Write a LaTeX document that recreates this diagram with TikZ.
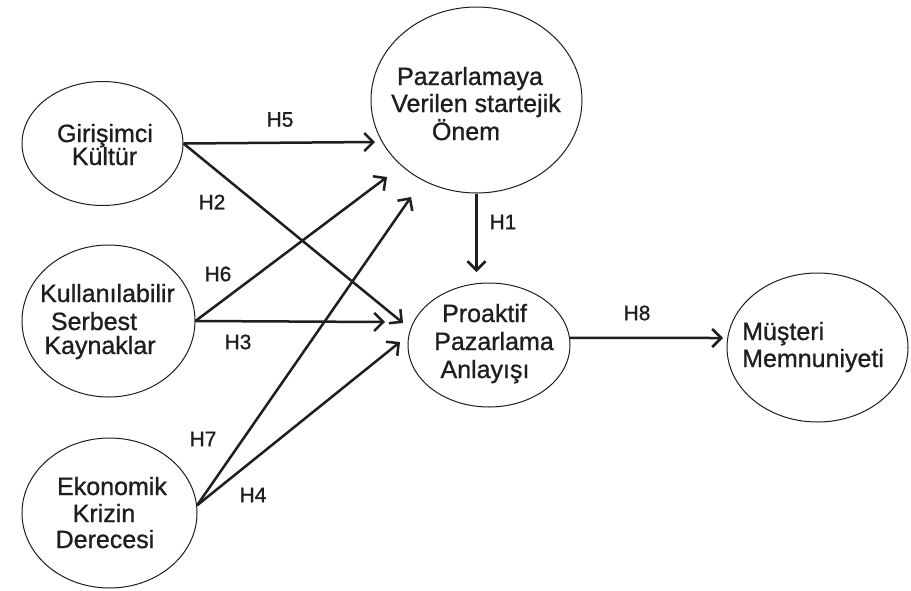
\documentclass[tikz,border=0pt]{standalone}
\usepackage{fontspec}
\setmainfont{Liberation Sans}
\newfontfamily\heavyfont{Liberation Sans}[FakeBold=0.9]
\usetikzlibrary{shapes.geometric,arrows.meta}
\definecolor{ink}{HTML}{1E1E1E}
\begin{document}
\begin{tikzpicture}[x=1pt,y=-1pt,
  ell/.style={draw=ink, line width=1pt, ellipse, inner sep=0pt},
  lbl/.style={font=\heavyfont\fontsize{25}{27}\selectfont, text=ink, inner sep=0pt, anchor=base},
  hyp/.style={font=\heavyfont\fontsize{21}{23}\selectfont, text=ink, inner sep=0pt},
  arr/.style={draw=ink, line width=2.5pt, -{Straight Barb[length=9pt,width=18pt]}}
]
\useasboundingbox[fill=white] (0,0) rectangle (911,590);

% ellipses
\node[ell, minimum width=161pt, minimum height=124pt] (gir) at (102.5,143.5) {};
\node[ell, minimum width=173pt, minimum height=152pt] (kul) at (108.5,321) {};
\node[ell, minimum width=175pt, minimum height=150pt] (eko) at (109.5,513) {};
\node[ell, minimum width=211pt, minimum height=186pt] (paz) at (476.5,100) {};
\node[ell, minimum width=162pt, minimum height=124pt] (pro) at (489,345) {};
\node[ell, minimum width=181pt, minimum height=149pt] (mus) at (817.5,347.5) {};

% texts
\node[lbl] (gir1) at (105,142) {Girişimci};
\node[lbl] (gir2) at (104.5,165) {Kültür};
\node[lbl] (kul1) at (107.5,302) {Kullanılabilir};
\node[lbl] (kul2) at (94,330) {Serbest};
\node[lbl] (kul3) at (100,354) {Kaynaklar};
\node[lbl] (eko1) at (112,495) {Ekonomik};
\node[lbl] (eko2) at (104,522) {Krizin};
\node[lbl] (eko3) at (105,548) {Derecesi};
\node[lbl] (paz1) at (470,85) {Pazarlamaya};
\node[lbl] (paz2) at (476,112) {Verilen startejik};
\node[lbl] (paz3) at (466,140) {Önem};
\node[lbl] (pro1) at (484.5,322) {Proaktif};
\node[lbl] (pro2) at (494,350) {Pazarlama};
\node[lbl] (pro3) at (485,378) {Anlayışı};
\node[lbl, anchor=base west] (mus1) at (742,340) {Müşteri};
\node[lbl, anchor=base west] (mus2) at (742,367) {Memnuniyeti};

% arrow tips
\coordinate (t5) at (375,142);
\coordinate (t2) at (403,323);
\coordinate (t6) at (387,177);
\coordinate (t3) at (385,322);
\coordinate (t7) at (411,197);
\coordinate (t4) at (400,342);
\coordinate (t1) at (476.5,272);
\coordinate (t8) at (723,338);

% connectors
\draw[arr] (gir.east) -- (t5);
\draw[arr] (gir.east) -- (t2);
\draw[arr] (kul.east) -- (t6);
\draw[arr] (kul.east) -- (t3);
\draw[arr] (eko.5) -- (t7);
\draw[arr] (eko.5) -- (t4);
\draw[arr] (paz.south) -- (t1);
\draw[arr] (pro.5) -- (t8);

% hypothesis labels
\node[hyp] (h5) at (280,119.5) {H5};
\node[hyp] (h2) at (212,202) {H2};
\node[hyp] (h6) at (218,274) {H6};
\node[hyp] (h3) at (238,342) {H3};
\node[hyp] (h7) at (203,439) {H7};
\node[hyp] (h4) at (253,495) {H4};
\node[hyp] (h1) at (503,222) {H1};
\node[hyp] (h8) at (637,313) {H8};
\end{tikzpicture}
\end{document}
